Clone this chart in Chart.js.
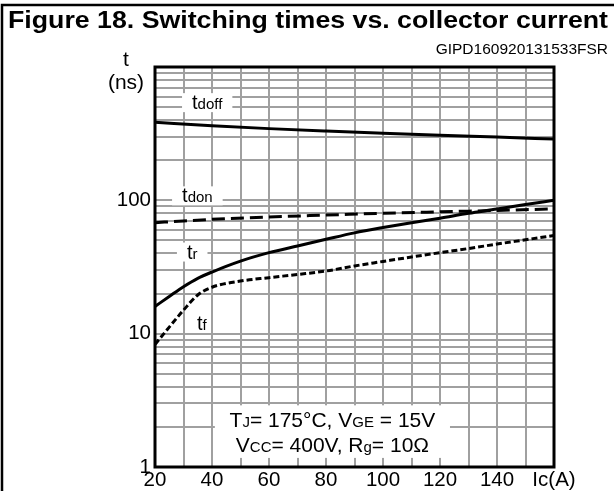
<!DOCTYPE html>
<html>
<head>
<meta charset="utf-8">
<script src="https://cdn.jsdelivr.net/npm/chart.js@4.4.1/dist/chart.umd.min.js"></script>
<style>
    html, body { margin: 0; padding: 0; background: #fff; }
    #wrap { width: 614px; height: 491px; position: relative; }
</style>
</head>
<body>
<div id="wrap"><canvas id="chart" width="614" height="491"></canvas></div>
<script>
// Switching times vs. collector current
const tdoffCurrents = [20, 40, 60, 80, 100, 120, 140, 160];
const tdoffValues   = [385, 363, 345, 331, 319, 308, 298, 288];

const tdonCurrents  = [20, 30, 40, 60, 80, 100, 120, 140, 158];
const tdonValues    = [68, 70, 72, 75, 77.5, 80, 82, 84, 86];

const trCurrents    = [20, 25, 30, 35, 40, 50, 60, 70, 80, 90, 100, 110, 120, 130, 140, 150, 160];
const trValues      = [16, 19, 22.5, 26, 29, 35, 40.5, 45.5, 51, 57, 62.5, 68, 73.5, 80, 86, 93, 100];

const tfCurrents    = [20, 25, 30, 35, 40, 50, 60, 70, 80, 90, 100, 110, 120, 130, 140, 150, 160];
const tfValues      = [8.3, 11.2, 15, 19.5, 22.3, 24.8, 26.3, 27.8, 29.5, 32.2, 34.8, 37.6, 40.5, 43.5, 47, 50.6, 54.5];

// log grid: 1..9 in each decade up to 1000, only the decades get a label
const yGridValues = [1, 2, 3, 4, 5, 6, 7, 8, 9, 10, 20, 30, 40, 50, 60, 70, 80, 90,
                     100, 200, 300, 400, 500, 600, 700, 800, 900, 1000];
const yLabelValues = [1, 10, 100];
const xLabelValues = [20, 40, 60, 80, 100, 120, 140];

const FONT = '"Liberation Sans", Arial, sans-serif';

function pts(xs, ys) {
    return xs.map((x, i) => ({ x: x, y: ys[i] }));
}

// text runs like t + "doff" set smaller on the same baseline
function measureRuns(ctx, runs) {
    let w = 0;
    runs.forEach(r => {
        ctx.font = r[1] + 'px ' + FONT;
        w += ctx.measureText(r[0]).width;
    });
    return w;
}

function drawRuns(ctx, x, y, runs) {
    ctx.textAlign = 'left';
    ctx.textBaseline = 'alphabetic';
    ctx.fillStyle = '#000';
    runs.forEach(r => {
        ctx.font = r[1] + 'px ' + FONT;
        ctx.fillText(r[0], x, y);
        x += ctx.measureText(r[0]).width;
    });
}

// label anchors are in data units (current, time)
const curveLabels = [
    { at: [33, 483],   runs: [['t', 20], ['doff', 15]], box: true },
    { at: [29.5, 96.6], runs: [['t', 20], ['don', 15]], box: true },
    { at: [31.2, 36.6], runs: [['t', 20], ['r', 15]], box: true },
    { at: [34.7, 10.7], runs: [['t', 20], ['f', 15]], box: false }
];

const conditionLines = [
    [['T', 21], ['J', 15], ['= 175°C, V', 21], ['GE', 15], [' = 15V', 21]],
    [['V', 21], ['CC', 15], ['= 400V, R', 21], ['g', 15], ['= 10Ω', 21]]
];

const overlay = {
    id: 'overlay',
    beforeDatasetsDraw(chart) {
        const { ctx, scales: { x, y } } = chart;
        ctx.save();
        curveLabels.forEach(l => {
            const px = x.getPixelForValue(l.at[0]);
            const py = y.getPixelForValue(l.at[1]);
            const w = measureRuns(ctx, l.runs);
            if (l.box) {
                ctx.fillStyle = '#fff';
                ctx.fillRect(px - 10, py - 16, w + 20, 19);
            }
            drawRuns(ctx, px, py, l.runs);
        });

        // conditions box at the bottom of the plot
        const left = x.getPixelForValue(41);
        const right = x.getPixelForValue(123.5);
        const top = y.getPixelForValue(2.9);
        const bottom = y.getPixelForValue(1.17);
        ctx.fillStyle = '#fff';
        ctx.fillRect(left, top, right - left, bottom - top);
        const mid = (left + right) / 2;
        [2.0, 1.3].forEach((v, i) => {
            const w = measureRuns(ctx, conditionLines[i]);
            drawRuns(ctx, mid - w / 2, y.getPixelForValue(v), conditionLines[i]);
        });
        ctx.restore();
    },
    afterDatasetsDraw(chart) {
        const { ctx, chartArea: a } = chart;
        ctx.save();
        ctx.strokeStyle = '#000';
        ctx.lineWidth = 3;
        ctx.strokeRect(a.left, a.top, a.right - a.left, a.bottom - a.top);
        ctx.restore();
    },
    afterDraw(chart) {
        const { ctx } = chart;
        ctx.save();
        // frame round the figure
        ctx.strokeStyle = '#000';
        ctx.lineWidth = 2.5;
        ctx.beginPath();
        ctx.moveTo(2, 491);
        ctx.lineTo(2, 5);
        ctx.lineTo(614, 5);
        ctx.stroke();

        ctx.fillStyle = '#000';
        ctx.textBaseline = 'alphabetic';
        ctx.textAlign = 'center';
        // the original title is set wide, stretch it to the same span
        const title = 'Figure 18. Switching times vs. collector current';
        ctx.font = 'bold 23px ' + FONT;
        const tw = ctx.measureText(title).width;
        ctx.save();
        ctx.translate(308, 28);
        ctx.scale(600 / tw, 1);
        ctx.fillText(title, 0, 0);
        ctx.restore();

        ctx.textAlign = 'right';
        ctx.font = '15.5px ' + FONT;
        ctx.fillText('GIPD160920131533FSR', 608, 54);

        ctx.textAlign = 'center';
        ctx.font = '21px ' + FONT;
        ctx.fillText('t', 126, 66);
        ctx.fillText('(ns)', 126, 89);
        ctx.restore();
    }
};

new Chart(document.getElementById('chart'), {
    type: 'line',
    data: {
        datasets: [
            { label: 'tdoff', data: pts(tdoffCurrents, tdoffValues), borderColor: '#000', borderWidth: 3 },
            { label: 'tdon', data: pts(tdonCurrents, tdonValues), borderColor: '#000', borderWidth: 3, borderDash: [13, 6] },
            { label: 'tr', data: pts(trCurrents, trValues), borderColor: '#000', borderWidth: 3 },
            { label: 'tf', data: pts(tfCurrents, tfValues), borderColor: '#000', borderWidth: 3, borderDash: [6, 3] }
        ]
    },
    options: {
        responsive: false,
        animation: false,
        layout: { padding: { left: 0, top: 67, right: 60, bottom: 0 } },
        elements: {
            point: { radius: 0 },
            line: { cubicInterpolationMode: 'monotone', fill: false }
        },
        plugins: {
            legend: { display: false },
            tooltip: { enabled: false }
        },
        scales: {
            x: {
                type: 'linear',
                min: 20,
                max: 160,
                border: { display: false },
                grid: { color: '#a0a0a0', lineWidth: 2, drawTicks: false },
                afterFit: s => { s.height = 24; },
                ticks: {
                    stepSize: 10,
                    autoSkip: false,
                    maxRotation: 0,
                    padding: 1,
                    color: '#000',
                    font: { family: FONT, size: 20.5 },
                    callback: v => v === 160 ? 'Ic(A)' : (xLabelValues.includes(v) ? String(v) : '')
                }
            },
            y: {
                type: 'logarithmic',
                min: 1,
                max: 1000,
                border: { display: false },
                grid: { color: '#a0a0a0', lineWidth: 2, drawTicks: false },
                afterFit: s => { s.width = 155; },
                afterBuildTicks: s => { s.ticks = yGridValues.map(v => ({ value: v })); },
                ticks: {
                    autoSkip: false,
                    padding: 4,
                    color: '#000',
                    font: { family: FONT, size: 20.5 },
                    callback: v => yLabelValues.includes(v) ? String(v) : ''
                }
            }
        }
    },
    plugins: [overlay]
});
</script>
</body>
</html>
